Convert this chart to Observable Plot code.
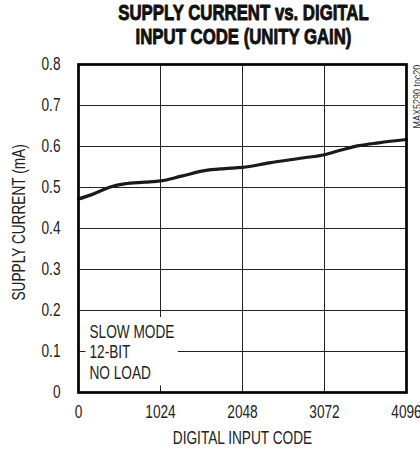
<!DOCTYPE html>
<html><head><meta charset="utf-8">
<script src="https://cdn.jsdelivr.net/npm/d3@7"></script>
<script src="https://cdn.jsdelivr.net/npm/@observablehq/plot@0.6"></script>
<style>
body{margin:0;background:#fff;}
svg{display:block;}
</style></head>
<body><div id="chart"></div>
<script>
const inputCodes = [0, 156, 407, 574, 824, 1024, 1274, 1574, 1824, 2048, 2382, 2799, 3072, 3293, 3500, 3750, 4096];
const supplyCurrent = [0.472, 0.482, 0.502, 0.509, 0.513, 0.516, 0.527, 0.541, 0.546, 0.549, 0.560, 0.572, 0.580, 0.592, 0.602, 0.609, 0.617];
const xTicks = [0, 1024, 2048, 3072, 4096];
const yTicks = [0, 0.1, 0.2, 0.3, 0.4, 0.5, 0.6, 0.7, 0.8];
const titleLines = ["SUPPLY CURRENT vs. DIGITAL", "INPUT CODE (UNITY GAIN)"];
const noteLines = ["SLOW MODE", "12-BIT", "NO LOAD"];
const noteValues = [0.147, 0.097, 0.047];
const xLabel = "DIGITAL INPUT CODE";
const yLabel = "SUPPLY CURRENT (mA)";
const watermark = "MAX5290 toc20";

const data = inputCodes.map((c, i) => ({code: c, value: supplyCurrent[i]}));
const noteData = noteLines.map((t, i) => ({text: t, value: noteValues[i]}));
const font = "'Liberation Sans', Arial, sans-serif";
const yFmt = d => d === 0 ? "0" : d.toFixed(1);

const chart = Plot.plot({
  width: 420,
  height: 457,
  marginLeft: 78,
  marginRight: 14,
  marginTop: 64,
  marginBottom: 65,
  style: {fontFamily: font, fontSize: "17.5px", color: "#222", background: "#fff"},
  x: {domain: [0, 4096], label: null},
  y: {domain: [0, 0.8], label: null},
  marks: [
    Plot.ruleY(yTicks, {stroke: "#222", strokeWidth: 1}),
    Plot.ruleX(xTicks, {stroke: "#222", strokeWidth: 1}),
    Plot.rect([{x1: 94, x2: 1246, y1: 0.016, y2: 0.183}], {x1: "x1", x2: "x2", y1: "y1", y2: "y2", fill: "white"}),
    Plot.line(data, {x: "code", y: "value", stroke: "#1a1a1a", strokeWidth: 3.2, curve: "monotone-x"}),
    Plot.frame({stroke: "#000", strokeWidth: 2.7}),
    Plot.text(noteData, {x: 0, y: "value", text: "text", textAnchor: "start", lineAnchor: "middle", dx: 11, fontSize: 17.5, fill: "#222"}),
    Plot.text([titleLines[0]], {frameAnchor: "top", lineAnchor: "middle", dx: 1, dy: -51.5, text: d => d, fontWeight: "bold", fontSize: 21.5, fill: "#111", stroke: "#111", strokeWidth: 0.9}),
    Plot.text([titleLines[1]], {frameAnchor: "top", lineAnchor: "middle", dx: 1, dy: -27.5, text: d => d, fontWeight: "bold", fontSize: 21.5, fill: "#111", stroke: "#111", strokeWidth: 0.9}),
    Plot.text([xLabel], {frameAnchor: "bottom", lineAnchor: "middle", dy: 46, text: d => d, fontSize: 17.5, fill: "#222"}),
    Plot.text([yLabel], {frameAnchor: "left", textAnchor: "start", lineAnchor: "middle", dx: -59, dy: 72, rotate: -90, text: d => d, fontSize: 17.5, fill: "#222"}),
    Plot.text([watermark], {frameAnchor: "top-right", textAnchor: "start", lineAnchor: "middle", dx: 10.5, dy: 64, rotate: -90, text: d => d, fontSize: 11.5, fill: "#333"}),
    Plot.axisX({ticks: xTicks, tickSize: 0, tickPadding: 13, label: null, tickFormat: d => String(d)}),
    Plot.axisY({ticks: yTicks, tickSize: 0, tickPadding: 18, label: null, tickFormat: yFmt})
  ]
});
document.getElementById("chart").appendChild(chart);

// condense all text horizontally (reference uses a condensed face)
chart.querySelectorAll("text").forEach(t => {
  const L = t.getComputedTextLength();
  if (L > 0) {
    t.setAttribute("textLength", (L * 0.78).toFixed(2));
    t.setAttribute("lengthAdjust", "spacingAndGlyphs");
  }
});
</script>
</body></html>
